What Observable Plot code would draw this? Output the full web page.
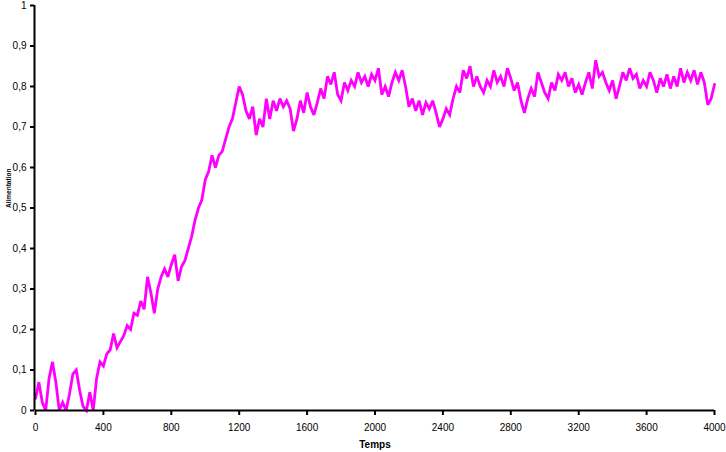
<!DOCTYPE html>
<html>
<head>
<meta charset="utf-8">
<script src="https://cdn.jsdelivr.net/npm/d3@7"></script>
<script src="https://cdn.jsdelivr.net/npm/@observablehq/plot@0.6"></script>
<style>
  html, body { margin: 0; padding: 0; background: #fff; }
  #chart { width: 726px; height: 452px; }
</style>
</head>
<body>
<div id="chart"></div>
<script>
// Time step of the sampled series
const timeStep = 20;
// Values, t = 0, 20, 40, ... 4000
const values = [
  0.03, 0.07, 0.02, 0.0, 0.08, 0.12, 0.07, 0.0, 0.02, 0.0,
  0.04, 0.09, 0.10, 0.05, 0.01, 0.0, 0.045, 0.0, 0.08, 0.12,
  0.11, 0.14, 0.15, 0.19, 0.155, 0.17, 0.185, 0.21, 0.2, 0.24,
  0.235, 0.27, 0.25, 0.33, 0.29, 0.24, 0.3, 0.33, 0.35, 0.33,
  0.36, 0.385, 0.32, 0.355, 0.37, 0.4, 0.43, 0.47, 0.5, 0.52,
  0.57, 0.59, 0.63, 0.6, 0.63, 0.64, 0.67, 0.7, 0.72, 0.76,
  0.80, 0.78, 0.74, 0.72, 0.75, 0.68, 0.72, 0.70, 0.77, 0.72,
  0.765, 0.74, 0.77, 0.75, 0.765, 0.745, 0.69, 0.72, 0.765, 0.735,
  0.785, 0.75, 0.73, 0.76, 0.795, 0.77, 0.825, 0.805, 0.835, 0.78,
  0.765, 0.81, 0.79, 0.815, 0.80, 0.835, 0.81, 0.825, 0.80, 0.83,
  0.815, 0.845, 0.78, 0.80, 0.775, 0.81, 0.835, 0.815, 0.84, 0.80,
  0.75, 0.77, 0.74, 0.765, 0.73, 0.76, 0.745, 0.765, 0.735, 0.70,
  0.72, 0.745, 0.73, 0.77, 0.80, 0.785, 0.84, 0.82, 0.85, 0.80,
  0.825, 0.80, 0.785, 0.815, 0.80, 0.84, 0.81, 0.825, 0.80, 0.845,
  0.82, 0.79, 0.81, 0.765, 0.735, 0.77, 0.795, 0.775, 0.835, 0.81,
  0.785, 0.77, 0.81, 0.79, 0.83, 0.815, 0.835, 0.80, 0.82, 0.785,
  0.805, 0.78, 0.81, 0.835, 0.795, 0.865, 0.825, 0.835, 0.81, 0.79,
  0.815, 0.77, 0.80, 0.835, 0.815, 0.845, 0.82, 0.83, 0.795, 0.815,
  0.80, 0.835, 0.815, 0.785, 0.82, 0.80, 0.83, 0.795, 0.825, 0.80,
  0.845, 0.81, 0.835, 0.815, 0.84, 0.805, 0.835, 0.81, 0.755, 0.77,
  0.805
];
const xTicks = [0, 400, 800, 1200, 1600, 2000, 2400, 2800, 3200, 3600, 4000];
const yTicks = [0, 0.1, 0.2, 0.3, 0.4, 0.5, 0.6, 0.7, 0.8, 0.9, 1];
const xLabel = "Temps";
const yLabel = "Alimentation";

const data = values.map((v, i) => ({t: i * timeStep, v}));
const fmtY = d => String(d).replace(".", ",");

const chart = Plot.plot({
  width: 726,
  height: 452,
  marginLeft: 35,
  marginRight: 12,
  marginTop: 5,
  marginBottom: 42,
  style: {fontFamily: "'Liberation Sans', Arial, sans-serif", background: "#fff", color: "#000"},
  x: {domain: [0, 4000]},
  y: {domain: [0, 1]},
  marks: [
    Plot.lineY(data, {x: "t", y: "v", stroke: "#ff00ff", strokeWidth: 2.8, strokeLinejoin: "miter", strokeMiterlimit: 3}),
    Plot.ruleX([0], {stroke: "#000", strokeWidth: 2, dx: -1}),
    Plot.ruleY([0], {stroke: "#000", strokeWidth: 2}),
    Plot.axisY({ticks: yTicks, tickFormat: fmtY, tickSize: 4, tickPadding: 4, fontSize: 10, strokeWidth: 2, dx: -1, label: null}),
    Plot.axisX({ticks: xTicks, tickFormat: d => String(d), tickSize: 5, tickPadding: 8, fontSize: 10, strokeWidth: 2, label: null}),
    Plot.text([xLabel], {frameAnchor: "bottom", dy: 37, fontSize: 10, fontWeight: "bold", letterSpacing: 0.6}),
    Plot.text([yLabel], {frameAnchor: "left", dx: -27, rotate: -90, fontSize: 6.5, fontWeight: "bold"})
  ]
});
document.getElementById("chart").appendChild(chart);
</script>
</body>
</html>
